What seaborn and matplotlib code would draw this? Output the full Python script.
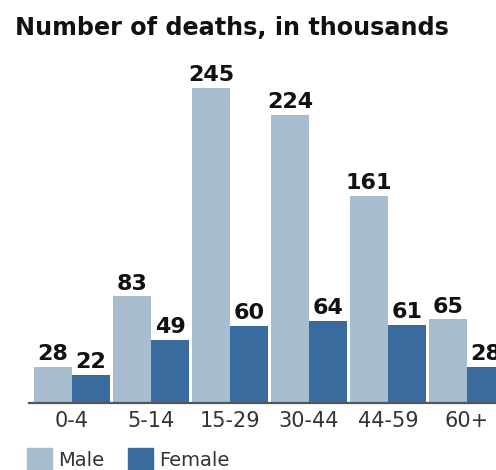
import matplotlib
matplotlib.use("Agg")
import matplotlib.pyplot as plt
import matplotlib.patches as mpatches
import seaborn as sns
import pandas as pd

ages = ["0-4", "5-14", "15-29", "30-44", "44-59", "60+"]
male = [28, 83, 245, 224, 161, 65]
female = [22, 49, 60, 64, 61, 28]
series_names = ["Male", "Female"]
title = "Number of deaths, in thousands"

male_color = "#A8BDD0"
female_color = "#3A6B9E"

df = pd.DataFrame({
    "age": ages * 2,
    "deaths": male + female,
    "sex": [series_names[0]] * len(ages) + [series_names[1]] * len(ages),
})

sns.set_style("white")
plt.rcParams["font.family"] = ["DejaVu Sans"]

W, H = 496, 470
fig = plt.figure(figsize=(W / 100, H / 100), dpi=100)

# axes geometry in pixels
ax_left_px, ax_right_px = 29, 496
base_px, top_px = 403, 60
ax = fig.add_axes([ax_left_px / W, (H - base_px) / H,
                   (ax_right_px - ax_left_px) / W, (base_px - top_px) / H])

sns.barplot(data=df, x="age", y="deaths", hue="sex", order=ages,
            hue_order=series_names, palette=[male_color, female_color],
            width=0.962, gap=0, saturation=1, legend=False, ax=ax,
            edgecolor="none", linewidth=0)

pitch = 79.0
ax.set_xlim(-(72 - ax_left_px) / pitch, 5 + (ax_right_px - 467) / pitch)
scale = 1.2857
ax.set_ylim(0, (base_px - top_px) / scale)

for cont in ax.containers:
    ax.bar_label(cont, fontsize=16, fontweight="bold", color="#111111",
                 padding=2, clip_on=False)

sns.despine(ax=ax, left=True, top=True, right=True)
ax.spines["bottom"].set_color("#555555")
ax.spines["bottom"].set_linewidth(1.6)
ax.set_xlabel("")
ax.set_ylabel("")
ax.set_yticks([])
ax.tick_params(axis="x", length=0, pad=5.5, labelsize=15, labelcolor="#333333")

fig.text(15 / W, 1 - 35 / H, title, fontsize=17.2, fontweight="bold",
         color="#111111", ha="left", va="baseline")

handles = [mpatches.Patch(color=male_color, label=series_names[0]),
           mpatches.Patch(color=female_color, label=series_names[1])]
leg = fig.legend(handles=handles, loc="center left", ncol=2, frameon=False,
                 bbox_to_anchor=(27 / W, 1 - 459 / H), borderaxespad=0,
                 borderpad=0, fontsize=14, handlelength=1.3, handleheight=1.3,
                 handletextpad=0.3, columnspacing=1.2)
for t in leg.get_texts():
    t.set_color("#333333")

fig.savefig("out.png", dpi=100)
